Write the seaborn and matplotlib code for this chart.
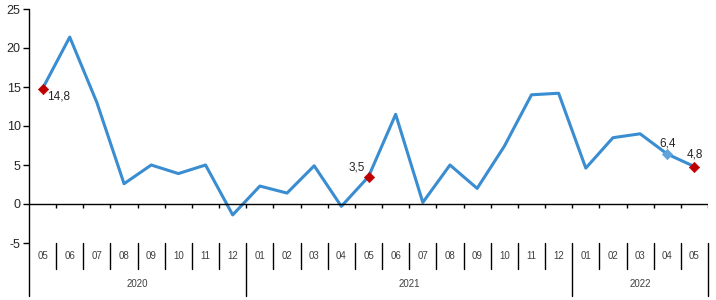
import matplotlib
matplotlib.use("Agg")
import matplotlib.pyplot as plt
import seaborn as sns
import pandas as pd

months = ["05", "06", "07", "08", "09", "10", "11", "12",
          "01", "02", "03", "04", "05", "06", "07", "08", "09", "10", "11", "12",
          "01", "02", "03", "04", "05"]
year_labels = ["2020", "2021", "2022"]
year_counts = [8, 12, 5]
values = [14.8, 21.4, 13.0, 2.6, 5.0, 3.9, 5.0, -1.4,
          2.3, 1.4, 4.9, -0.3, 3.5, 11.5, 0.2, 5.0, 2.0, 7.4, 14.0, 14.2,
          4.6, 8.5, 9.0, 6.4, 4.8]
red_points = [0, 12, 24]
blue_points = [23]
labels = {0: "14,8", 12: "3,5", 23: "6,4", 24: "4,8"}
label_offsets = {0: (16, -8), 12: (-12, 9), 23: (0, 11), 24: (0, 12)}

sns.set_theme(style="white")
plt.rcParams['font.family'] = ['Liberation Sans', 'DejaVu Sans']

W, H = 716, 300
fig = plt.figure(figsize=(W / 100, H / 100), dpi=100)
ax_left, ax_right, ax_top, ax_bot = 29, 708, 9, 243
ax = fig.add_axes([ax_left / W, 1 - ax_bot / H, (ax_right - ax_left) / W, (ax_bot - ax_top) / H])

n = len(values)
df = pd.DataFrame({"pos": list(range(n)), "value": values, "month": months})
sns.lineplot(data=df, x="pos", y="value", color="#3A8DD0", linewidth=2.2, ax=ax)
sns.scatterplot(data=df.iloc[red_points], x="pos", y="value", color="#C00000",
                marker="D", s=28, edgecolor="#C00000", zorder=5, ax=ax)
sns.scatterplot(data=df.iloc[blue_points], x="pos", y="value", color="#5FA3DC",
                marker="D", s=28, edgecolor="#5FA3DC", zorder=5, ax=ax)

for i, txt in labels.items():
    ax.annotate(txt, (i, values[i]), xytext=label_offsets[i], textcoords="offset pixels",
                ha="center", va="center", fontsize=8.5, color="#262626")

ax.set_xlim(-0.5, n - 0.5)
ax.set_ylim(-5, 25)
ax.set_yticks([-5, 0, 5, 10, 15, 20, 25])
ax.set_yticklabels(["-5", "0", "5", "10", "15", "20", "25"])
ax.tick_params(axis="y", direction="out", length=4, width=1, color="black",
               labelsize=9, labelcolor="#262626", left=True, pad=2)
ax.set_xticks([])
ax.set_xlabel("")
ax.set_ylabel("")
for s in ["top", "right", "bottom", "left"]:
    ax.spines[s].set_visible(False)

# zero line and category ticks
ax.axhline(0, color="black", linewidth=1, zorder=3)
boundaries = [i - 0.5 for i in range(n + 1)]
ax.vlines(boundaries[1:], -0.5, 0, color="black", linewidth=1, zorder=3)

tr = ax.get_xaxis_transform()
def ay(px):
    return (ax_bot - px) / (ax_bot - ax_top)

# left spine extended
ax.plot([-0.5, -0.5], [1, ay(296)], transform=tr, color="black", linewidth=1, clip_on=False)

# month separators and labels
year_bounds = [-0.5]
acc = -0.5
for c in year_counts:
    acc += c
    year_bounds.append(acc)
for b in boundaries[1:]:
    if b in year_bounds:
        ax.plot([b, b], [0, ay(296)], transform=tr, color="black", linewidth=1, clip_on=False)
    else:
        ax.plot([b, b], [0, ay(269)], transform=tr, color="black", linewidth=1, clip_on=False)
for i, m in enumerate(months):
    ax.text(i, ay(256), m, transform=tr, ha="center", va="center", fontsize=7, color="#404040")
for k, yl in enumerate(year_labels):
    mid = (year_bounds[k] + year_bounds[k + 1]) / 2
    ax.text(mid, ay(284), yl, transform=tr, ha="center", va="center", fontsize=7, color="#404040")

fig.savefig("out.png", dpi=100)
